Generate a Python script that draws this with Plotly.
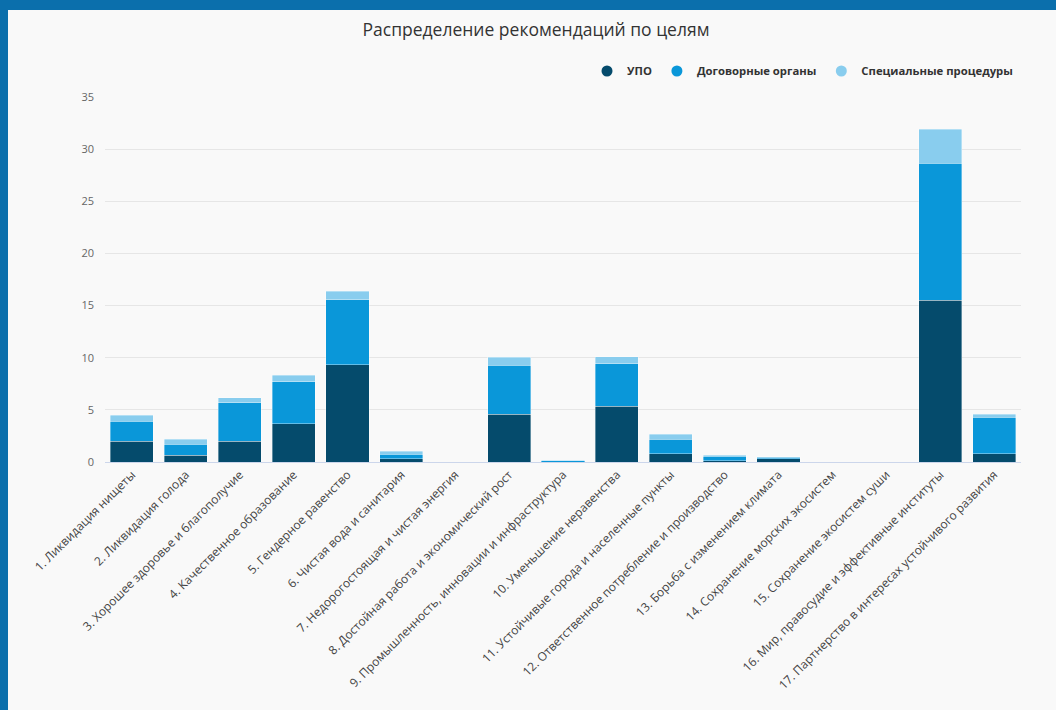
import plotly.graph_objects as go

categories = [
    "1. Ликвидация нищеты",
    "2. Ликвидация голода",
    "3. Хорошее здоровье и благополучие",
    "4. Качественное образование",
    "5. Гендерное равенство",
    "6. Чистая вода и санитария",
    "7. Недорогостоящая и чистая энергия",
    "8. Достойная работа и экономический рост",
    "9. Промышленность, инновации и инфраструктура",
    "10. Уменьшение неравенства",
    "11. Устойчивые города и населенные пункты",
    "12. Ответственное потребление и производство",
    "13. Борьба с изменением климата",
    "14. Сохранение морских экосистем",
    "15. Сохранение экосистем суши",
    "16. Мир, правосудие и эффективные институты",
    "17. Партнерство в интересах устойчивого развития",
]
upo = [2.0, 0.67, 2.0, 3.67, 9.33, 0.33, 0, 4.6, 0, 5.33, 0.8, 0.1, 0.3, 0, 0, 15.5, 0.8]
treaty = [1.93, 1.03, 3.69, 4.03, 6.23, 0.41, 0, 4.7, 0.1, 4.07, 1.4, 0.47, 0.15, 0, 0, 13.17, 3.48]
special = [0.57, 0.48, 0.48, 0.64, 0.8, 0.31, 0, 0.73, 0.05, 0.7, 0.45, 0.1, 0.03, 0, 0, 3.23, 0.32]
series_names = ["УПО", "Договорные органы", "Специальные процедуры"]
series_colors = ["#054b6c", "#0a97d9", "#89cdee"]
y_ticks = [0, 5, 10, 15, 20, 25, 30, 35]

W, H = 1056, 710
L, R, T, B = 105, 35, 97, 248
pw, ph = W - L - R, H - T - B

def px(x):
    return (x - L) / pw

def py(y):
    return (H - B - y) / ph

fig = go.Figure()
for name, vals, col in zip(series_names, [upo, treaty, special], series_colors):
    fig.add_trace(go.Bar(
        x=categories, y=vals, name=name, marker_color=col,
        marker_line_color="rgba(255,255,255,0.6)", marker_line_width=0.6,
        showlegend=False,
    ))
for name, col in zip(series_names, series_colors):
    fig.add_trace(go.Scatter(
        x=[None], y=[None], mode="markers", name=name,
        marker=dict(color=col, size=11, symbol="circle"),
    ))

bg = "#f9f9f9"
band = "#0b6fac"
shapes = [
    dict(type="rect", xref="paper", yref="paper", x0=px(8), x1=px(W + 5), y0=py(H + 5), y1=py(10),
         fillcolor=bg, line_width=0, layer="below"),
]

fig.update_layout(
    width=W, height=H,
    barmode="stack", bargap=0.2,
    paper_bgcolor=band, plot_bgcolor=bg,
    margin=dict(l=L, r=R, t=T, b=B, pad=0),
    font=dict(family="Open Sans, sans-serif", color="#333333"),
    title=dict(text="Распределение рекомендаций по целям", x=536 / W, xanchor="center",
               y=1 - 30 / H, yanchor="middle", font=dict(size=17.5, color="#333333")),
    legend=dict(orientation="h", traceorder="normal", x=px(1018), xanchor="right",
                y=py(71), yanchor="middle",
                font=dict(size=11.3, color="#333333", family="Open Sans, sans-serif", weight="bold"),
                bgcolor="rgba(0,0,0,0)", itemwidth=30),
    shapes=shapes,
    xaxis=dict(tickangle=-45, tickfont=dict(size=12, color="#444444"), showline=True,
               linecolor="#ccd6eb", linewidth=1, showgrid=False, ticks=""),
    yaxis=dict(range=[0, 35], tickvals=y_ticks, gridcolor="#e6e6e6", gridwidth=1,
               zeroline=False, tickfont=dict(size=11, color="#666666"), ticklabelstandoff=10),
)

fig.write_html("out.html", config={"displayModeBar": False},
               post_script="document.body.style.margin='0';document.body.style.overflow='hidden';")
